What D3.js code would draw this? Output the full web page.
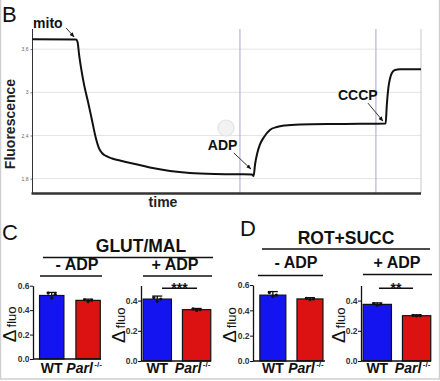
<!DOCTYPE html>
<html>
<head>
<meta charset="utf-8">
<script src="https://cdn.jsdelivr.net/npm/d3@7"></script>
<style>
  body { margin: 0; background: #fff; }
  svg { display: block; font-family: "Liberation Sans", Arial, sans-serif; }
</style>
</head>
<body>
<svg width="440" height="381"></svg>
<script>
// trace (panel B)
var traceTime = [0, 112, 116, 120, 125, 133, 143, 153, 163, 171, 179, 189, 205, 225, 264, 302, 354, 405, 470, 534, 565, 569,
                 573, 578, 585, 596, 611, 629, 650, 689, 766, 843, 909, 912, 916, 920, 925, 933, 946, 1000];
var traceValue = [3.738, 3.735, 3.70, 3.52, 3.34, 3.10, 2.866, 2.615, 2.365, 2.225, 2.156, 2.115, 2.080, 2.052, 2.003, 1.954, 1.906, 1.878, 1.864, 1.860, 1.857, 1.836,
                  2.003, 2.142, 2.268, 2.379, 2.476, 2.518, 2.539, 2.553, 2.560, 2.562, 2.567, 2.824, 3.06, 3.186, 3.269, 3.311, 3.320, 3.320];
var fluoTicks = [1.8, 2.4, 3, 3.6];
var eventTimes = [534, 884];
var eventLabels = ['mito', 'ADP', 'CCCP'];
var eventTip = [[107, 3.77], [562, 1.934], [902, 2.60]];

// bar panels (C, D)
var genotypes = ['WT', 'Parl'];
var glutNoAdp = [0.52, 0.48], glutNoAdpSem = [0.025, 0.01];
var glutAdp = [0.41, 0.34], glutAdpSem = [0.02, 0.008];
var rotNoAdp = [0.52, 0.49], rotNoAdpSem = [0.028, 0.01];
var rotAdp = [0.375, 0.30], rotAdpSem = [0.01, 0.006];
var glutNoAdpPts = [[0.54, 0.50, 0.53], [0.485, 0.47, 0.48]];
var glutAdpPts = [[0.42, 0.395, 0.41], [0.345, 0.335, 0.34]];
var rotNoAdpPts = [[0.54, 0.51, 0.52], [0.495, 0.485, 0.49]];
var rotAdpPts = [[0.38, 0.37, 0.375], [0.302, 0.298, 0.30]];
var barTicks = [0, 0.2, 0.4, 0.6];

var svg = d3.select('svg');
var black = '#111';

// frame
svg.append('rect')
  .attr('x', 0.5).attr('y', -2).attr('width', 439).attr('height', 381)
  .attr('fill', 'none').attr('stroke', '#cfcfcf').attr('stroke-width', 1.5);

// ---------- panel B ----------
var x = d3.scaleLinear().domain([0, 1000]).range([32.5, 421]);
var y = d3.scaleLinear().domain([1.6, 3.88]).range([193, 29]);
var commaFmt = d3.formatLocale({decimal: ',', thousands: '.', grouping: [3], currency: ['', '']}).format('~g');

svg.append('text').attr('x', 2).attr('y', 22).attr('font-size', 22).attr('fill', black).text('B');

svg.append('g').selectAll('line').data(fluoTicks).join('line')
  .attr('x1', x(0)).attr('x2', x(1000))
  .attr('y1', function(d) { return y(d); }).attr('y2', function(d) { return y(d); })
  .attr('stroke', '#e4e4e4').attr('stroke-width', 1);

svg.append('g').selectAll('line').data(eventTimes).join('line')
  .attr('x1', function(d) { return x(d); }).attr('x2', function(d) { return x(d); })
  .attr('y1', 29).attr('y2', 193)
  .attr('stroke', '#a6a6d2').attr('stroke-width', 1);
svg.append('line')
  .attr('x1', x(1000)).attr('x2', x(1000)).attr('y1', 29).attr('y2', 193)
  .attr('stroke', '#c8c8c8').attr('stroke-width', 1);

var yAxisB = svg.append('g')
  .attr('transform', 'translate(' + x(0) + ',0)')
  .call(d3.axisLeft(y).tickValues(fluoTicks).tickSize(2).tickFormat(commaFmt));
yAxisB.select('.domain').remove();
yAxisB.append('line').attr('x1', 0).attr('x2', 0).attr('y1', 29).attr('y2', 193)
  .attr('stroke', '#333').attr('stroke-width', 1);
yAxisB.selectAll('text').attr('font-size', 5).attr('fill', '#666').attr('x', -4);
yAxisB.selectAll('.tick line').attr('stroke', '#777');

svg.append('line')
  .attr('x1', x(0) - 1).attr('x2', x(1000)).attr('y1', 193.5).attr('y2', 193.5)
  .attr('stroke', '#333').attr('stroke-width', 2.5);

// faint watermark
svg.append('circle').attr('cx', 226).attr('cy', 128).attr('r', 8)
  .attr('fill', '#f2f2f2').attr('stroke', '#e2e2e2').attr('stroke-width', 1.2);

var traceLine = d3.line()
  .curve(d3.curveMonotoneX)
  .x(function(d, i) { return x(traceTime[i]); })
  .y(function(d) { return y(d); });

svg.append('path')
  .attr('d', traceLine(traceValue))
  .attr('fill', 'none').attr('stroke', black).attr('stroke-width', 2);

svg.append('text')
  .attr('transform', 'translate(15,124) rotate(-90)')
  .attr('text-anchor', 'middle').attr('font-size', 14).attr('font-weight', 'bold')
  .attr('fill', '#222').text('Fluorescence');
svg.append('text')
  .attr('x', 163).attr('y', 207).attr('text-anchor', 'middle')
  .attr('font-size', 14).attr('font-weight', 'bold').attr('fill', '#222').text('time');

svg.append('defs').append('marker')
  .attr('id', 'arr').attr('viewBox', '0 0 10 10').attr('refX', 9).attr('refY', 5)
  .attr('markerWidth', 5).attr('markerHeight', 5).attr('orient', 'auto')
  .append('path').attr('d', 'M0,1L10,5L0,9Z').attr('fill', black);

var labelOff = [[-41, -9], [-43, -19], [-45, -21]];
var tailOff = [[-8, -9], [-17, -16], [-15, -18]];
eventLabels.forEach(function(lab, i) {
  var tx = x(eventTip[i][0]), ty = y(eventTip[i][1]);
  svg.append('text')
    .attr('x', tx + labelOff[i][0]).attr('y', ty + labelOff[i][1])
    .attr('font-size', 14).attr('font-weight', 'bold').attr('fill', black).text(lab);
  svg.append('line')
    .attr('x1', tx + tailOff[i][0]).attr('y1', ty + tailOff[i][1])
    .attr('x2', tx).attr('y2', ty)
    .attr('stroke', '#333').attr('stroke-width', 1).attr('marker-end', 'url(#arr)');
});

// ---------- panels C and D ----------
function header(txt, cx, base, size, x1, x2, ly) {
  svg.append('text').attr('x', cx).attr('y', base).attr('text-anchor', 'middle')
    .attr('font-size', size).attr('font-weight', 'bold').attr('fill', black).text(txt);
  svg.append('line').attr('x1', x1).attr('x2', x2).attr('y1', ly).attr('y2', ly)
    .attr('stroke', black).attr('stroke-width', 1.6);
}

svg.append('text').attr('x', 2).attr('y', 240).attr('font-size', 22).attr('fill', black).text('C');
svg.append('text').attr('x', 240).attr('y', 236).attr('font-size', 22).attr('fill', black).text('D');

header('GLUT/MAL', 141, 252, 17.5, 43, 213, 257.5);
header('ROT+SUCC', 346, 243.5, 17.5, 262, 430, 249);
header('- ADP', 77, 270, 16, 40, 102, 276);
header('+ ADP', 175, 270, 16, 143, 212, 276);
header('- ADP', 296, 268, 16, 258, 323, 275.5);
header('+ ADP', 397, 268, 16, 363, 432, 274.5);

function barChart(cfg) {
  var ys = d3.scaleLinear().domain([0, cfg.top]).range([cfg.y0, cfg.yTop]);
  var xs = d3.scaleBand().domain(genotypes).range([cfg.x0, cfg.x1])
    .paddingInner(cfg.pi).paddingOuter(cfg.po).align(cfg.al);
  var g = svg.append('g');

  var ax = g.append('g').attr('transform', 'translate(' + cfg.x0 + ',0)')
    .call(d3.axisLeft(ys).tickValues(barTicks.filter(function(t) { return t <= cfg.top + 1e-9; }))
      .tickSize(3).tickSizeOuter(0).tickFormat(d3.format('.1f')));
  ax.select('.domain').attr('stroke', black).attr('stroke-width', 1.3);
  ax.selectAll('.tick line').attr('stroke', black);
  ax.selectAll('text').attr('font-size', 8.5).attr('font-weight', 'bold').attr('fill', '#333').attr('x', -3.5);

  g.selectAll('rect').data(cfg.mean).join('rect')
    .attr('x', function(d, i) { return xs(genotypes[i]); })
    .attr('width', xs.bandwidth())
    .attr('y', function(d) { return ys(d); })
    .attr('height', function(d) { return ys(0) - ys(d); })
    .attr('fill', function(d, i) { return i === 0 ? '#1414f0' : '#dc1212'; })
    .attr('stroke', black).attr('stroke-width', 1.2);

  cfg.mean.forEach(function(m, i) {
    var cx = xs(genotypes[i]) + xs.bandwidth() / 2;
    var top = ys(m + cfg.sem[i]);
    g.append('line').attr('x1', cx).attr('x2', cx).attr('y1', ys(m)).attr('y2', top)
      .attr('stroke', black).attr('stroke-width', 1.3);
    g.append('line').attr('x1', cx - 5).attr('x2', cx + 5).attr('y1', top).attr('y2', top)
      .attr('stroke', black).attr('stroke-width', 1.3);
    g.selectAll('.pt' + i).data(cfg.pts[i]).join('circle')
      .attr('cx', function(d, j) { return cx + (j - 1) * 3.5; })
      .attr('cy', function(d) { return ys(d); })
      .attr('r', 1.6).attr('fill', black);
  });

  g.append('line').attr('x1', cfg.x0).attr('x2', cfg.x1).attr('y1', ys(0)).attr('y2', ys(0))
    .attr('stroke', black).attr('stroke-width', 1.3);

  var wx = xs('WT') + xs.bandwidth() / 2;
  g.append('text').attr('x', wx).attr('y', 373).attr('text-anchor', 'middle')
    .attr('font-size', 14).attr('font-weight', 'bold').attr('fill', black).text('WT');
  var px = xs('Parl') + xs.bandwidth() / 2 - 4;
  var pt = g.append('text').attr('x', px).attr('y', 373).attr('text-anchor', 'middle')
    .attr('font-size', 14).attr('font-weight', 'bold').attr('fill', black);
  pt.append('tspan').attr('font-style', 'italic').text('Parl');
  pt.append('tspan').attr('font-size', 8).attr('dy', -6).attr('dx', 1.5).text('-/-');

  var lab = g.append('text')
    .attr('transform', 'translate(' + cfg.lx + ',' + ((cfg.y0 + cfg.yTop) / 2 + 2) + ') rotate(-90)')
    .attr('text-anchor', 'middle').attr('fill', black);
  lab.append('tspan').attr('font-size', 19).text('Δ');
  lab.append('tspan').attr('font-size', 13).attr('dx', 2).text('fluo');

  if (cfg.sig) {
    g.append('line').attr('x1', cfg.sig[0]).attr('x2', cfg.sig[1]).attr('y1', 288.3).attr('y2', 288.3)
      .attr('stroke', black).attr('stroke-width', 1.5);
    g.append('text').attr('x', (cfg.sig[0] + cfg.sig[1]) / 2).attr('y', 292.5).attr('text-anchor', 'middle')
      .attr('font-size', 14).attr('font-weight', 'bold').attr('fill', black).text(cfg.stars);
  }
}

barChart({mean: glutNoAdp, sem: glutNoAdpSem, pts: glutNoAdpPts, top: 0.6, y0: 359, yTop: 285.7,
  x0: 33, x1: 101, pi: 0.33, po: 0.1, al: 0.9, lx: 16});
barChart({mean: glutAdp, sem: glutAdpSem, pts: glutAdpPts, top: 0.5, y0: 361, yTop: 285.5,
  x0: 141, x1: 211, pi: 0.28, po: 0.03, al: 0.9, lx: 125, sig: [162, 197], stars: '***'});
barChart({mean: rotNoAdp, sem: rotNoAdpSem, pts: rotNoAdpPts, top: 0.6, y0: 361, yTop: 285,
  x0: 253, x1: 325, pi: 0.3, po: 0.12, al: 0.77, lx: 236});
barChart({mean: rotAdp, sem: rotAdpSem, pts: rotAdpPts, top: 0.5, y0: 361, yTop: 285.5,
  x0: 361, x1: 431, pi: 0.28, po: 0.03, al: 0.9, lx: 345, sig: [379, 413], stars: '**'});
</script>
</body>
</html>
